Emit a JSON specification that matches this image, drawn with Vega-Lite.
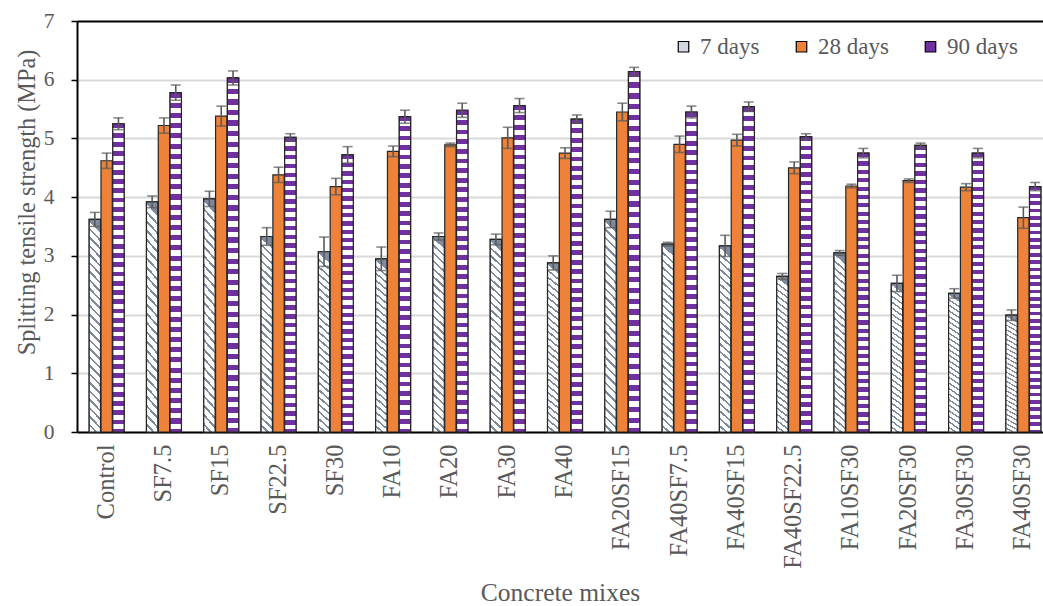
{
  "$schema": "https://vega.github.io/schema/vega-lite/v6.json",
  "autosize": "none",
  "padding": {"left": 77, "top": 21, "right": 0, "bottom": 174},
  "width": 966,
  "height": 411,
  "background": "white",
  "config": {
    "font": "Liberation Serif, Times New Roman, serif",
    "view": {"stroke": null},
    "axis": {"labelFont": "Liberation Serif, Times New Roman, serif", "titleFont": "Liberation Serif, Times New Roman, serif", "labelColor": "#595959", "titleColor": "#595959", "titleFontWeight": "normal"},
    "legend": {"labelFont": "Liberation Serif, Times New Roman, serif", "titleFont": "Liberation Serif, Times New Roman, serif"}
  },
  "data": {"values": [
    {"mix":"Control","age":"7 days","value":3.62,"err":0.12},
    {"mix":"Control","age":"28 days","value":4.62,"err":0.13},
    {"mix":"Control","age":"90 days","value":5.25,"err":0.10},
    {"mix":"SF7.5","age":"7 days","value":3.92,"err":0.10},
    {"mix":"SF7.5","age":"28 days","value":5.22,"err":0.13},
    {"mix":"SF7.5","age":"90 days","value":5.78,"err":0.13},
    {"mix":"SF15","age":"7 days","value":3.97,"err":0.13},
    {"mix":"SF15","age":"28 days","value":5.38,"err":0.17},
    {"mix":"SF15","age":"90 days","value":6.03,"err":0.12},
    {"mix":"SF22.5","age":"7 days","value":3.33,"err":0.15},
    {"mix":"SF22.5","age":"28 days","value":4.38,"err":0.13},
    {"mix":"SF22.5","age":"90 days","value":5.02,"err":0.06},
    {"mix":"SF30","age":"7 days","value":3.07,"err":0.25},
    {"mix":"SF30","age":"28 days","value":4.18,"err":0.14},
    {"mix":"SF30","age":"90 days","value":4.72,"err":0.14},
    {"mix":"FA10","age":"7 days","value":2.95,"err":0.20},
    {"mix":"FA10","age":"28 days","value":4.78,"err":0.09},
    {"mix":"FA10","age":"90 days","value":5.37,"err":0.11},
    {"mix":"FA20","age":"7 days","value":3.33,"err":0.06},
    {"mix":"FA20","age":"28 days","value":4.89,"err":0.03},
    {"mix":"FA20","age":"90 days","value":5.48,"err":0.12},
    {"mix":"FA30","age":"7 days","value":3.28,"err":0.09},
    {"mix":"FA30","age":"28 days","value":5.01,"err":0.18},
    {"mix":"FA30","age":"90 days","value":5.56,"err":0.12},
    {"mix":"FA40","age":"7 days","value":2.88,"err":0.12},
    {"mix":"FA40","age":"28 days","value":4.75,"err":0.09},
    {"mix":"FA40","age":"90 days","value":5.33,"err":0.07},
    {"mix":"FA20SF15","age":"7 days","value":3.62,"err":0.14},
    {"mix":"FA20SF15","age":"28 days","value":5.45,"err":0.15},
    {"mix":"FA20SF15","age":"90 days","value":6.14,"err":0.07},
    {"mix":"FA40SF7.5","age":"7 days","value":3.20,"err":0.03},
    {"mix":"FA40SF7.5","age":"28 days","value":4.90,"err":0.14},
    {"mix":"FA40SF7.5","age":"90 days","value":5.45,"err":0.10},
    {"mix":"FA40SF15","age":"7 days","value":3.17,"err":0.18},
    {"mix":"FA40SF15","age":"28 days","value":4.97,"err":0.10},
    {"mix":"FA40SF15","age":"90 days","value":5.54,"err":0.08},
    {"mix":"FA40SF22.5","age":"7 days","value":2.65,"err":0.05},
    {"mix":"FA40SF22.5","age":"28 days","value":4.50,"err":0.10},
    {"mix":"FA40SF22.5","age":"90 days","value":5.03,"err":0.05},
    {"mix":"FA10SF30","age":"7 days","value":3.05,"err":0.04},
    {"mix":"FA10SF30","age":"28 days","value":4.19,"err":0.03},
    {"mix":"FA10SF30","age":"90 days","value":4.75,"err":0.08},
    {"mix":"FA20SF30","age":"7 days","value":2.53,"err":0.14},
    {"mix":"FA20SF30","age":"28 days","value":4.28,"err":0.03},
    {"mix":"FA20SF30","age":"90 days","value":4.88,"err":0.04},
    {"mix":"FA30SF30","age":"7 days","value":2.36,"err":0.08},
    {"mix":"FA30SF30","age":"28 days","value":4.17,"err":0.06},
    {"mix":"FA30SF30","age":"90 days","value":4.75,"err":0.08},
    {"mix":"FA40SF30","age":"7 days","value":1.99,"err":0.09},
    {"mix":"FA40SF30","age":"28 days","value":3.65,"err":0.18},
    {"mix":"FA40SF30","age":"90 days","value":4.18,"err":0.07}
  ]},
  "encoding": {
    "x": {
      "field": "mix", "type": "nominal", "sort": null,
      "scale": {"paddingInner": 0.39, "paddingOuter": 0.125, "align": 0.85},
      "axis": {
        "title": "Concrete mixes", "titleFontSize": 25.5, "titleY": 168, "titleBaseline": "alphabetic",
        "labelAngle": -90, "labelFontSize": 24.5, "labelPadding": 12, "ticks": false,
        "domainColor": "#000000", "domainWidth": 2, "grid": false
      }
    },
    "xOffset": {"field": "age", "type": "nominal", "sort": ["7 days", "28 days", "90 days"], "scale": {"paddingInner": 0.04}},
    "y": {
      "field": "value", "type": "quantitative",
      "scale": {"domain": [0, 7], "nice": false},
      "axis": {
        "title": "Splitting tensile strength (MPa)", "titleFontSize": 24.3, "titleX": -38, "titleY": 181,
        "values": [0, 1, 2, 3, 4, 5, 6, 7], "format": "d", "labelFontSize": 21.5, "labelPadding": 17, "tickSize": 6,
        "tickColor": "#000000", "domainColor": "#000000", "domainWidth": 2, "tickWidth": 1.5,
        "gridColor": {"condition": {"test": "datum.value === 7", "value": "#000000"}, "value": "#d9d9d9"},
        "gridWidth": 2
      }
    }
  },
  "layer": [
    {
      "mark": {"type": "bar", "stroke": "#262626", "strokeWidth": 1.2},
      "encoding": {
        "color": {
          "field": "age", "type": "nominal", "sort": ["7 days", "28 days", "90 days"],
          "scale": {"domain": ["7 days", "28 days", "90 days"], "range": ["#d3d8e0", "#EE8238", "#7030A0"]},
          "legend": {
            "title": null, "orient": "none", "direction": "horizontal", "legendX": 595, "legendY": 14,
            "symbolType": "square", "symbolSize": 110, "symbolStrokeColor": "#000000", "symbolStrokeWidth": 1.2,
            "labelFontSize": 23, "labelColor": "#595959", "labelOffset": 5, "columnPadding": 30
          }
        }
      }
    },
    {
      "transform": [{"filter": "datum.age === '7 days'"}],
      "mark": {
        "type": "bar", "stroke": "#262626", "strokeWidth": 1.2,
        "fill": {"gradient": "linear", "x1": 0.055, "y1": 0, "x2": 0, "y2": 1, "stops": [
          {"offset": 0.0, "color": "#7f8a9c"}, {"offset": 0.012, "color": "#7f8a9c"}, {"offset": 0.012, "color": "#ffffff"}, {"offset": 0.04, "color": "#ffffff"},
          {"offset": 0.04, "color": "#7f8a9c"}, {"offset": 0.052, "color": "#7f8a9c"}, {"offset": 0.052, "color": "#ffffff"}, {"offset": 0.08, "color": "#ffffff"},
          {"offset": 0.08, "color": "#7f8a9c"}, {"offset": 0.092, "color": "#7f8a9c"}, {"offset": 0.092, "color": "#ffffff"}, {"offset": 0.12, "color": "#ffffff"},
          {"offset": 0.12, "color": "#7f8a9c"}, {"offset": 0.132, "color": "#7f8a9c"}, {"offset": 0.132, "color": "#ffffff"}, {"offset": 0.16, "color": "#ffffff"},
          {"offset": 0.16, "color": "#7f8a9c"}, {"offset": 0.172, "color": "#7f8a9c"}, {"offset": 0.172, "color": "#ffffff"}, {"offset": 0.2, "color": "#ffffff"},
          {"offset": 0.2, "color": "#7f8a9c"}, {"offset": 0.212, "color": "#7f8a9c"}, {"offset": 0.212, "color": "#ffffff"}, {"offset": 0.24, "color": "#ffffff"},
          {"offset": 0.24, "color": "#7f8a9c"}, {"offset": 0.252, "color": "#7f8a9c"}, {"offset": 0.252, "color": "#ffffff"}, {"offset": 0.28, "color": "#ffffff"},
          {"offset": 0.28, "color": "#7f8a9c"}, {"offset": 0.292, "color": "#7f8a9c"}, {"offset": 0.292, "color": "#ffffff"}, {"offset": 0.32, "color": "#ffffff"},
          {"offset": 0.32, "color": "#7f8a9c"}, {"offset": 0.332, "color": "#7f8a9c"}, {"offset": 0.332, "color": "#ffffff"}, {"offset": 0.36, "color": "#ffffff"},
          {"offset": 0.36, "color": "#7f8a9c"}, {"offset": 0.372, "color": "#7f8a9c"}, {"offset": 0.372, "color": "#ffffff"}, {"offset": 0.4, "color": "#ffffff"},
          {"offset": 0.4, "color": "#7f8a9c"}, {"offset": 0.412, "color": "#7f8a9c"}, {"offset": 0.412, "color": "#ffffff"}, {"offset": 0.44, "color": "#ffffff"},
          {"offset": 0.44, "color": "#7f8a9c"}, {"offset": 0.452, "color": "#7f8a9c"}, {"offset": 0.452, "color": "#ffffff"}, {"offset": 0.48, "color": "#ffffff"},
          {"offset": 0.48, "color": "#7f8a9c"}, {"offset": 0.492, "color": "#7f8a9c"}, {"offset": 0.492, "color": "#ffffff"}, {"offset": 0.52, "color": "#ffffff"},
          {"offset": 0.52, "color": "#7f8a9c"}, {"offset": 0.532, "color": "#7f8a9c"}, {"offset": 0.532, "color": "#ffffff"}, {"offset": 0.56, "color": "#ffffff"},
          {"offset": 0.56, "color": "#7f8a9c"}, {"offset": 0.572, "color": "#7f8a9c"}, {"offset": 0.572, "color": "#ffffff"}, {"offset": 0.6, "color": "#ffffff"},
          {"offset": 0.6, "color": "#7f8a9c"}, {"offset": 0.612, "color": "#7f8a9c"}, {"offset": 0.612, "color": "#ffffff"}, {"offset": 0.64, "color": "#ffffff"},
          {"offset": 0.64, "color": "#7f8a9c"}, {"offset": 0.652, "color": "#7f8a9c"}, {"offset": 0.652, "color": "#ffffff"}, {"offset": 0.68, "color": "#ffffff"},
          {"offset": 0.68, "color": "#7f8a9c"}, {"offset": 0.692, "color": "#7f8a9c"}, {"offset": 0.692, "color": "#ffffff"}, {"offset": 0.72, "color": "#ffffff"},
          {"offset": 0.72, "color": "#7f8a9c"}, {"offset": 0.732, "color": "#7f8a9c"}, {"offset": 0.732, "color": "#ffffff"}, {"offset": 0.76, "color": "#ffffff"},
          {"offset": 0.76, "color": "#7f8a9c"}, {"offset": 0.772, "color": "#7f8a9c"}, {"offset": 0.772, "color": "#ffffff"}, {"offset": 0.8, "color": "#ffffff"},
          {"offset": 0.8, "color": "#7f8a9c"}, {"offset": 0.812, "color": "#7f8a9c"}, {"offset": 0.812, "color": "#ffffff"}, {"offset": 0.84, "color": "#ffffff"},
          {"offset": 0.84, "color": "#7f8a9c"}, {"offset": 0.852, "color": "#7f8a9c"}, {"offset": 0.852, "color": "#ffffff"}, {"offset": 0.88, "color": "#ffffff"},
          {"offset": 0.88, "color": "#7f8a9c"}, {"offset": 0.892, "color": "#7f8a9c"}, {"offset": 0.892, "color": "#ffffff"}, {"offset": 0.92, "color": "#ffffff"},
          {"offset": 0.92, "color": "#7f8a9c"}, {"offset": 0.932, "color": "#7f8a9c"}, {"offset": 0.932, "color": "#ffffff"}, {"offset": 0.96, "color": "#ffffff"},
          {"offset": 0.96, "color": "#7f8a9c"}, {"offset": 0.972, "color": "#7f8a9c"}, {"offset": 0.972, "color": "#ffffff"}, {"offset": 1.0, "color": "#ffffff"}
        ]}
      }
    },
    {
      "transform": [{"filter": "datum.age === '90 days'"}],
      "mark": {
        "type": "bar", "stroke": "#262626", "strokeWidth": 1.2,
        "fill": {"gradient": "linear", "x1": 0, "y1": 0, "x2": 0, "y2": 1, "stops": [
          {"offset": 0.0, "color": "#7030A0"}, {"offset": 0.015, "color": "#7030A0"}, {"offset": 0.015, "color": "#ffffff"}, {"offset": 0.03, "color": "#ffffff"},
          {"offset": 0.03, "color": "#7030A0"}, {"offset": 0.045, "color": "#7030A0"}, {"offset": 0.045, "color": "#ffffff"}, {"offset": 0.06, "color": "#ffffff"},
          {"offset": 0.06, "color": "#7030A0"}, {"offset": 0.075, "color": "#7030A0"}, {"offset": 0.075, "color": "#ffffff"}, {"offset": 0.09, "color": "#ffffff"},
          {"offset": 0.09, "color": "#7030A0"}, {"offset": 0.105, "color": "#7030A0"}, {"offset": 0.105, "color": "#ffffff"}, {"offset": 0.12, "color": "#ffffff"},
          {"offset": 0.12, "color": "#7030A0"}, {"offset": 0.135, "color": "#7030A0"}, {"offset": 0.135, "color": "#ffffff"}, {"offset": 0.15, "color": "#ffffff"},
          {"offset": 0.15, "color": "#7030A0"}, {"offset": 0.165, "color": "#7030A0"}, {"offset": 0.165, "color": "#ffffff"}, {"offset": 0.18, "color": "#ffffff"},
          {"offset": 0.18, "color": "#7030A0"}, {"offset": 0.195, "color": "#7030A0"}, {"offset": 0.195, "color": "#ffffff"}, {"offset": 0.21, "color": "#ffffff"},
          {"offset": 0.21, "color": "#7030A0"}, {"offset": 0.225, "color": "#7030A0"}, {"offset": 0.225, "color": "#ffffff"}, {"offset": 0.24, "color": "#ffffff"},
          {"offset": 0.24, "color": "#7030A0"}, {"offset": 0.255, "color": "#7030A0"}, {"offset": 0.255, "color": "#ffffff"}, {"offset": 0.27, "color": "#ffffff"},
          {"offset": 0.27, "color": "#7030A0"}, {"offset": 0.285, "color": "#7030A0"}, {"offset": 0.285, "color": "#ffffff"}, {"offset": 0.3, "color": "#ffffff"},
          {"offset": 0.3, "color": "#7030A0"}, {"offset": 0.315, "color": "#7030A0"}, {"offset": 0.315, "color": "#ffffff"}, {"offset": 0.33, "color": "#ffffff"},
          {"offset": 0.33, "color": "#7030A0"}, {"offset": 0.345, "color": "#7030A0"}, {"offset": 0.345, "color": "#ffffff"}, {"offset": 0.36, "color": "#ffffff"},
          {"offset": 0.36, "color": "#7030A0"}, {"offset": 0.375, "color": "#7030A0"}, {"offset": 0.375, "color": "#ffffff"}, {"offset": 0.39, "color": "#ffffff"},
          {"offset": 0.39, "color": "#7030A0"}, {"offset": 0.405, "color": "#7030A0"}, {"offset": 0.405, "color": "#ffffff"}, {"offset": 0.42, "color": "#ffffff"},
          {"offset": 0.42, "color": "#7030A0"}, {"offset": 0.435, "color": "#7030A0"}, {"offset": 0.435, "color": "#ffffff"}, {"offset": 0.45, "color": "#ffffff"},
          {"offset": 0.45, "color": "#7030A0"}, {"offset": 0.465, "color": "#7030A0"}, {"offset": 0.465, "color": "#ffffff"}, {"offset": 0.48, "color": "#ffffff"},
          {"offset": 0.48, "color": "#7030A0"}, {"offset": 0.495, "color": "#7030A0"}, {"offset": 0.495, "color": "#ffffff"}, {"offset": 0.51, "color": "#ffffff"},
          {"offset": 0.51, "color": "#7030A0"}, {"offset": 0.525, "color": "#7030A0"}, {"offset": 0.525, "color": "#ffffff"}, {"offset": 0.54, "color": "#ffffff"},
          {"offset": 0.54, "color": "#7030A0"}, {"offset": 0.555, "color": "#7030A0"}, {"offset": 0.555, "color": "#ffffff"}, {"offset": 0.57, "color": "#ffffff"},
          {"offset": 0.57, "color": "#7030A0"}, {"offset": 0.585, "color": "#7030A0"}, {"offset": 0.585, "color": "#ffffff"}, {"offset": 0.6, "color": "#ffffff"},
          {"offset": 0.6, "color": "#7030A0"}, {"offset": 0.615, "color": "#7030A0"}, {"offset": 0.615, "color": "#ffffff"}, {"offset": 0.63, "color": "#ffffff"},
          {"offset": 0.63, "color": "#7030A0"}, {"offset": 0.645, "color": "#7030A0"}, {"offset": 0.645, "color": "#ffffff"}, {"offset": 0.66, "color": "#ffffff"},
          {"offset": 0.66, "color": "#7030A0"}, {"offset": 0.675, "color": "#7030A0"}, {"offset": 0.675, "color": "#ffffff"}, {"offset": 0.69, "color": "#ffffff"},
          {"offset": 0.69, "color": "#7030A0"}, {"offset": 0.705, "color": "#7030A0"}, {"offset": 0.705, "color": "#ffffff"}, {"offset": 0.72, "color": "#ffffff"},
          {"offset": 0.72, "color": "#7030A0"}, {"offset": 0.735, "color": "#7030A0"}, {"offset": 0.735, "color": "#ffffff"}, {"offset": 0.75, "color": "#ffffff"},
          {"offset": 0.75, "color": "#7030A0"}, {"offset": 0.765, "color": "#7030A0"}, {"offset": 0.765, "color": "#ffffff"}, {"offset": 0.78, "color": "#ffffff"},
          {"offset": 0.78, "color": "#7030A0"}, {"offset": 0.795, "color": "#7030A0"}, {"offset": 0.795, "color": "#ffffff"}, {"offset": 0.81, "color": "#ffffff"},
          {"offset": 0.81, "color": "#7030A0"}, {"offset": 0.825, "color": "#7030A0"}, {"offset": 0.825, "color": "#ffffff"}, {"offset": 0.84, "color": "#ffffff"},
          {"offset": 0.84, "color": "#7030A0"}, {"offset": 0.855, "color": "#7030A0"}, {"offset": 0.855, "color": "#ffffff"}, {"offset": 0.87, "color": "#ffffff"},
          {"offset": 0.87, "color": "#7030A0"}, {"offset": 0.885, "color": "#7030A0"}, {"offset": 0.885, "color": "#ffffff"}, {"offset": 0.9, "color": "#ffffff"},
          {"offset": 0.9, "color": "#7030A0"}, {"offset": 0.915, "color": "#7030A0"}, {"offset": 0.915, "color": "#ffffff"}, {"offset": 0.93, "color": "#ffffff"},
          {"offset": 0.93, "color": "#7030A0"}, {"offset": 0.945, "color": "#7030A0"}, {"offset": 0.945, "color": "#ffffff"}, {"offset": 0.96, "color": "#ffffff"},
          {"offset": 0.96, "color": "#7030A0"}, {"offset": 0.975, "color": "#7030A0"}, {"offset": 0.975, "color": "#ffffff"}, {"offset": 0.99, "color": "#ffffff"},
          {"offset": 0.99, "color": "#7030A0"}, {"offset": 1.0, "color": "#7030A0"}
        ]}
      }
    },
    {
      "mark": {"type": "errorbar", "ticks": {"size": 10, "color": "#595959", "thickness": 1.6}, "rule": {"color": "#595959", "strokeWidth": 1.6}},
      "encoding": {
        "yError": {"field": "err"}
      }
    }
  ]
}
